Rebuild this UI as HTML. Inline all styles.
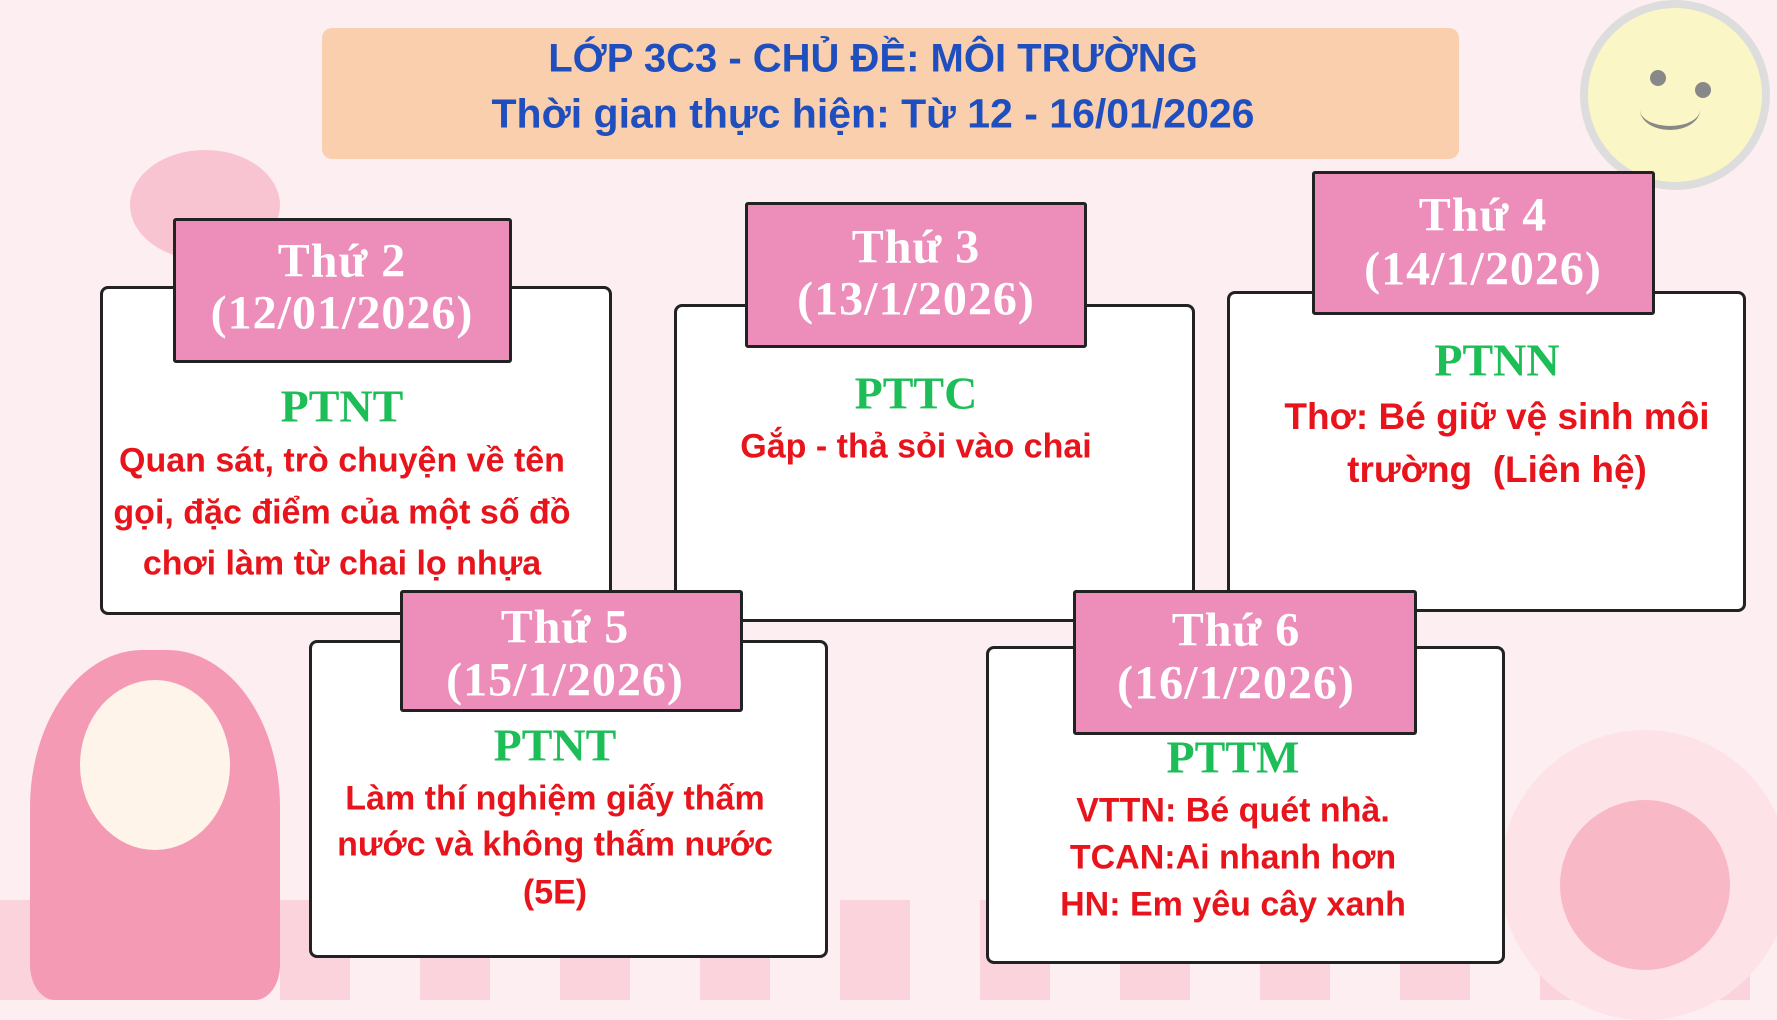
<!DOCTYPE html>
<html><head><meta charset="utf-8"><style>
body{margin:0;width:1777px;height:1000px;overflow:hidden;background:#fdeff1;position:relative;font-family:"Liberation Sans",sans-serif}
.a{position:absolute}
.box{position:absolute;background:#fff;border:3px solid #222;border-radius:8px;box-sizing:border-box}
.hd{position:absolute;background:#ec8dba;border:3px solid #222;border-radius:3px;box-sizing:border-box}
.t{position:absolute;white-space:nowrap;transform:translate(-50%,-50%);text-align:center}
.w{color:#fff;font-family:"Liberation Serif",serif;font-weight:bold;font-size:48px;letter-spacing:1px}
.g{color:#1dbd58;font-family:"Liberation Serif",serif;font-weight:bold;font-size:46px}
.r{color:#e8141b;font-weight:bold;font-size:34px}
.b{color:#1f4fbf;font-weight:bold;font-size:41px}
</style></head><body>
<!-- decorations -->
<div class="a" style="left:0;top:900px;width:1777px;height:100px;background:repeating-linear-gradient(90deg,#fbd3dc 0 70px,#fdeff1 70px 140px)"></div>
<div class="a" style="left:1580px;top:0;width:190px;height:190px;border-radius:50%;background:#fbf6c6;border:8px solid #ddd;box-sizing:border-box"></div>
<div class="a" style="left:1650px;top:70px;width:16px;height:16px;border-radius:50%;background:#888"></div>
<div class="a" style="left:1695px;top:82px;width:16px;height:16px;border-radius:50%;background:#888"></div>
<div class="a" style="left:1640px;top:90px;width:60px;height:40px;border-radius:50%;border-bottom:4px solid #888;box-sizing:border-box"></div>
<div class="a" style="left:130px;top:150px;width:150px;height:110px;border-radius:50%;background:#f9c4d2"></div>
<div class="a" style="left:1500px;top:730px;width:290px;height:290px;border-radius:50%;background:#fde3e8"></div>
<div class="a" style="left:1560px;top:800px;width:170px;height:170px;border-radius:50%;background:#f8b8c6"></div>
<div class="a" style="left:30px;top:650px;width:250px;height:350px;border-radius:45% 45% 10% 10%;background:#f49ab5"></div>
<div class="a" style="left:80px;top:680px;width:150px;height:170px;border-radius:50%;background:#fff4ea"></div>
<!-- title -->
<div class="a" style="left:322px;top:28px;width:1137px;height:131px;background:#f9cfae;border-radius:10px"></div>
<div class="t b" style="left:873px;top:59px;font-size:40px">LỚP 3C3 - CHỦ ĐỀ: MÔI TRƯỜNG</div>
<div class="t b" style="left:873px;top:114px">Thời gian thực hiện: Từ 12 - 16/01/2026</div>
<!-- box1 -->
<div class="box" style="left:100px;top:286px;width:512px;height:329px"></div>
<div class="hd" style="left:173px;top:218px;width:339px;height:145px"></div>
<div class="t w" style="left:342px;top:261px">Thứ 2</div>
<div class="t w" style="left:342px;top:313px">(12/01/2026)</div>
<div class="t g" style="left:342px;top:406px">PTNT</div>
<div class="t r" style="left:342px;top:461px">Quan sát, trò chuyện về tên</div>
<div class="t r" style="left:342px;top:513px">gọi, đặc điểm của một số đồ</div>
<div class="t r" style="left:342px;top:564px">chơi làm từ chai lọ nhựa</div>
<!-- box2 -->
<div class="box" style="left:674px;top:304px;width:521px;height:318px"></div>
<div class="hd" style="left:745px;top:202px;width:342px;height:146px"></div>
<div class="t w" style="left:916px;top:247px">Thứ 3</div>
<div class="t w" style="left:916px;top:299px">(13/1/2026)</div>
<div class="t g" style="left:916px;top:393px">PTTC</div>
<div class="t r" style="left:916px;top:447px">Gắp - thả sỏi vào chai</div>
<!-- box3 -->
<div class="box" style="left:1227px;top:291px;width:519px;height:321px"></div>
<div class="hd" style="left:1312px;top:171px;width:343px;height:144px"></div>
<div class="t w" style="left:1483px;top:215px">Thứ 4</div>
<div class="t w" style="left:1483px;top:269px">(14/1/2026)</div>
<div class="t g" style="left:1497px;top:360px">PTNN</div>
<div class="t r" style="left:1497px;top:417px;font-size:37px">Thơ: Bé giữ vệ sinh môi</div>
<div class="t r" style="left:1497px;top:470px;font-size:37px">trường&nbsp; (Liên hệ)</div>
<!-- box4 -->
<div class="box" style="left:309px;top:640px;width:519px;height:318px"></div>
<div class="hd" style="left:400px;top:590px;width:343px;height:122px"></div>
<div class="t w" style="left:565px;top:627px">Thứ 5</div>
<div class="t w" style="left:565px;top:680px">(15/1/2026)</div>
<div class="t g" style="left:555px;top:745px">PTNT</div>
<div class="t r" style="left:555px;top:799px">Làm thí nghiệm giấy thấm</div>
<div class="t r" style="left:555px;top:845px">nước và không thấm nước</div>
<div class="t r" style="left:555px;top:893px">(5E)</div>
<!-- box5 -->
<div class="box" style="left:986px;top:646px;width:519px;height:318px"></div>
<div class="hd" style="left:1073px;top:590px;width:344px;height:145px"></div>
<div class="t w" style="left:1236px;top:630px">Thứ 6</div>
<div class="t w" style="left:1236px;top:683px">(16/1/2026)</div>
<div class="t g" style="left:1233px;top:757px">PTTM</div>
<div class="t r" style="left:1233px;top:811px">VTTN: Bé quét nhà.</div>
<div class="t r" style="left:1233px;top:858px">TCAN:Ai nhanh hơn</div>
<div class="t r" style="left:1233px;top:905px">HN: Em yêu cây xanh</div>
</body></html>
